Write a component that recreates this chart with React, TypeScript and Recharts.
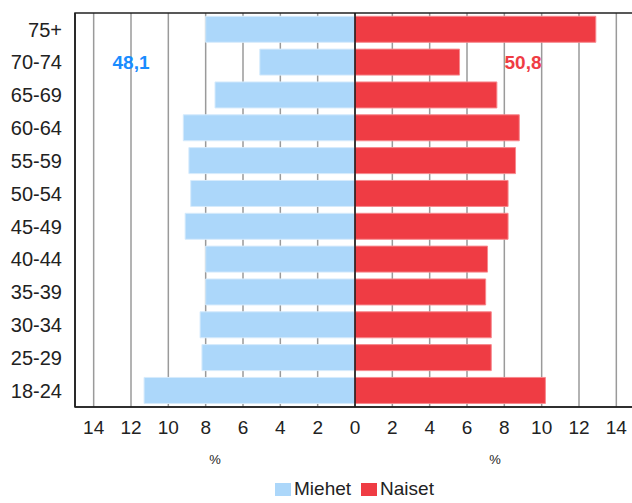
import { BarChart, Bar, XAxis, YAxis, CartesianGrid, Legend, ReferenceLine, ReferenceDot, ReferenceArea } from "recharts";

const ageGroups = ["75+", "70-74", "65-69", "60-64", "55-59", "50-54", "45-49", "40-44", "35-39", "30-34", "25-29", "18-24"];
const miehet = [8.0, 5.1, 7.5, 9.2, 8.9, 8.8, 9.1, 8.0, 8.0, 8.3, 8.2, 11.3];
const naiset = [12.9, 5.6, 7.6, 8.8, 8.6, 8.2, 8.2, 7.1, 7.0, 7.3, 7.3, 10.2];
const xTicks = [-14, -12, -10, -8, -6, -4, -2, 0, 2, 4, 6, 8, 10, 12, 14];
const totalMiehet = "48,1";
const totalNaiset = "50,8";

const BLUE = "#acd7fa";
const RED = "#ef3c44";
const FONT = "'Liberation Sans', Arial, sans-serif";

const chartData = ageGroups.map((age, i) => ({
  age,
  miehet: -miehet[i],
  naiset: naiset[i],
}));

function PercentLabels(props: any) {
  const vb = props.viewBox || {};
  const y = vb.y + 54;
  return (
    <g fontFamily={FONT} fontSize={13} fill="#222">
      <text x={vb.x + vb.width / 4} y={y} textAnchor="middle" dominantBaseline="middle">%</text>
      <text x={vb.x + (vb.width * 3) / 4} y={y} textAnchor="middle" dominantBaseline="middle">%</text>
    </g>
  );
}

function LegendBox() {
  const items = [
    { name: "Miehet", color: BLUE },
    { name: "Naiset", color: RED },
  ];
  return (
    <div style={{ height: 24, display: "flex", justifyContent: "center", alignItems: "center", fontFamily: FONT, fontSize: 19, color: "#222", paddingLeft: 76 }}>
      {items.map(it => (
        <span key={it.name} style={{ display: "flex", alignItems: "center", marginRight: 10 }}>
          <span style={{ display: "inline-block", width: 16, height: 13, background: it.color, marginRight: 3 }} />
          {it.name}
        </span>
      ))}
    </div>
  );
}

export default function App() {
  return (
    <div style={{ width: 632, height: 503, overflow: "hidden", padding: "8px 0 0 8px", boxSizing: "border-box" }}>
      <style>{`html, body { margin: 0; padding: 0; overflow: hidden; }`}</style>
      <BarChart
        width={630}
        height={495}
        data={chartData}
        layout="vertical"
        stackOffset="sign"
        barCategoryGap="10%"
        margin={{ top: 5, right: 3, left: 0, bottom: 2 }}
      >
        <CartesianGrid horizontal={false} stroke="#9a9a9a" strokeWidth={1.5} />
        <XAxis
          type="number"
          domain={[-15, 15]}
          ticks={xTicks}
          tickFormatter={(v) => String(Math.abs(v))}
          tickLine={false}
          tickSize={0}
          tickMargin={14}
          height={70}
          axisLine={{ stroke: "#222", strokeWidth: 1.5 }}
          tick={{ fill: "#222", fontSize: 19, fontFamily: FONT }}
          interval={0}
          label={<PercentLabels />}
        />
        <YAxis
          type="category"
          dataKey="age"
          width={67}
          tickLine={false}
          tickSize={0}
          tickMargin={13}
          axisLine={{ stroke: "#222", strokeWidth: 1.5 }}
          tick={{ fill: "#222", fontSize: 20, fontFamily: FONT }}
          interval={0}
        />
        <Legend verticalAlign="bottom" content={<LegendBox />} />
        <Bar dataKey="miehet" name="Miehet" stackId="a" fill={BLUE} stroke="#d6ebfc" strokeWidth={1} isAnimationActive={false} />
        <Bar dataKey="naiset" name="Naiset" stackId="a" fill={RED} stroke="#f7888d" strokeWidth={1} isAnimationActive={false} />
        <ReferenceArea x1={-15} x2={15} fill="none" fillOpacity={0} stroke="#222" strokeWidth={1.5} />
        <ReferenceLine x={0} stroke="#111" strokeWidth={1.5} />
        <ReferenceDot
          x={-12}
          y="70-74"
          r={0}
          stroke="none"
          label={{ value: totalMiehet, position: "center", fill: "#1a8cff", fontSize: 19, fontWeight: "bold", fontFamily: FONT }}
        />
        <ReferenceDot
          x={9}
          y="70-74"
          r={0}
          stroke="none"
          label={{ value: totalNaiset, position: "center", fill: RED, fontSize: 19, fontWeight: "bold", fontFamily: FONT }}
        />
      </BarChart>
    </div>
  );
}
